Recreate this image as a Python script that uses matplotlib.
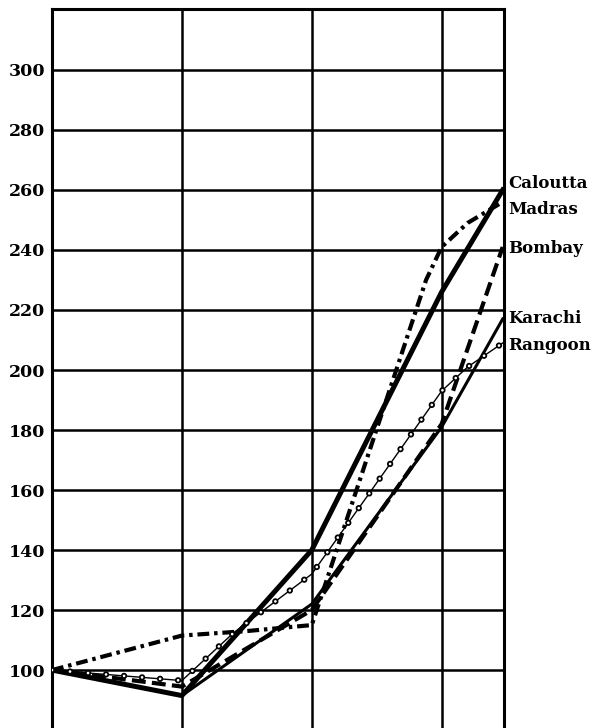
import matplotlib
matplotlib.use("Agg")
import matplotlib.pyplot as plt

plt.rcParams['lines.scale_dashes'] = False

# values (index, first point = 100)
x_calcutta = [0, 1, 2, 3, 3.47]
calcutta = [100, 91.5, 140, 226, 260]

x_madras = [0, 1, 1.5, 2, 2.88, 3.0, 3.2, 3.47]
madras = [100, 111.5, 113, 115, 230, 241, 249, 256]

x_bombay = [0, 1, 2, 3, 3.47]
bombay = [100, 94.5, 120, 182, 241]

x_karachi = [0, 1, 2, 3, 3.47]
karachi = [100, 91.5, 122, 181, 217]

x_rangoon = [0, 1, 1.4, 2, 2.42, 3, 3.2, 3.47]
rangoon = [100, 96.5, 112.5, 132, 157.5, 193, 201, 209]

labels = ["Caloutta", "Madras", "Bombay", "Karachi", "Rangoon"]
label_y = [262, 253.5, 240.5, 217, 208.3]

yticks = list(range(100, 301, 20))

fig = plt.figure(figsize=(6.02, 7.28), dpi=100)
ax = fig.add_axes([52/602, 0, 452/602, 719/728])

ax.set_xlim(0, 3.48)
ax.set_ylim(80.7, 320.3)

ax.set_yticks(yticks)
ax.set_yticklabels([str(v) for v in yticks], fontfamily='DejaVu Serif',
                   fontweight='bold', fontsize=12.5)
ax.set_xticks([1, 2, 3])
ax.set_xticklabels([])
ax.tick_params(length=0, pad=5)
ax.grid(True, color='black', linewidth=1.8)
ax.set_axisbelow(True)

for side in ['left', 'right', 'top']:
    ax.spines[side].set_linewidth(2.2)
ax.spines['bottom'].set_visible(False)

# Calcutta: heavy solid
ax.plot(x_calcutta, calcutta, color='black', linewidth=3.6,
        solid_joinstyle='miter', zorder=5)
# Karachi: lighter solid
ax.plot(x_karachi, karachi, color='black', linewidth=2.2, zorder=5)
# Madras: dash-dot
ax.plot(x_madras, madras, color='black', linewidth=3.0,
        dashes=(8.5, 3.5, 2.5, 3.5), dash_capstyle='butt', zorder=5)
# Bombay: dashed
ax.plot(x_bombay, bombay, color='black', linewidth=3.0,
        dashes=(10, 4.5), dash_capstyle='butt', zorder=5)
# Rangoon: thin line with small open circles
ax.plot(x_rangoon, rangoon, color='black', linewidth=1.0, zorder=5)
ax.plot(x_rangoon, rangoon, color='black', linewidth=4.6,
        dashes=(0.01, 13), dash_capstyle='round', zorder=6)
ax.plot(x_rangoon, rangoon, color='white', linewidth=2.0,
        dashes=(0.01, 13), dash_capstyle='round', zorder=7)

for name, yv in zip(labels, label_y):
    ax.text(1.01, yv, name, transform=ax.get_yaxis_transform(),
            fontfamily='DejaVu Serif', fontweight='bold', fontsize=12,
            ha='left', va='center', clip_on=False)

fig.savefig("out.png", dpi=100, facecolor='white')
